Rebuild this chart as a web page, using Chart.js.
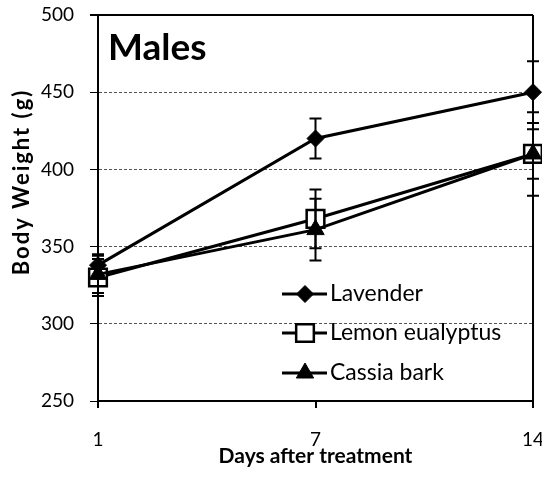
<!DOCTYPE html>
<html>
<head>
<meta charset="utf-8">
<script src="https://cdn.jsdelivr.net/npm/chart.js@4.4.1/dist/chart.umd.min.js"></script>
<style>
  body { margin: 0; background: #fff; }
  canvas { display: block; }
</style>
</head>
<body>
<canvas id="weightChart" width="542" height="477"></canvas>
<script>
// Days after treatment (categories) and body weight in g
const days = ['1', '7', '14'];
const lavender = [338, 420, 450];
const lavenderErr = [7, 13, 20];
const lemon = [330, 368, 410];
const lemonErr = [12, 19, 16];
const cassia = [332, 361, 410];
const cassiaErr = [12, 20, 27];
const seriesNames = ['Lavender', 'Lemon eualyptus', 'Cassia bark'];
const yTicks = [250, 300, 350, 400, 450, 500];

const FONT = 'Lato';

// vertical error bars with caps, from the y scale
const errorBars = {
    id: 'errorBars',
    afterDatasetsDraw(chart) {
        const ctx = chart.ctx;
        const yScale = chart.scales.y;
        ctx.save();
        ctx.strokeStyle = '#000';
        ctx.lineWidth = 2;
        chart.data.datasets.forEach((ds, di) => {
            const meta = chart.getDatasetMeta(di);
            meta.data.forEach((pt, i) => {
                const v = ds.data[i];
                const e = ds.errors[i];
                const top = yScale.getPixelForValue(v + e);
                const bot = yScale.getPixelForValue(v - e);
                ctx.beginPath();
                ctx.moveTo(pt.x, top);
                ctx.lineTo(pt.x, bot);
                ctx.moveTo(pt.x - 6, top);
                ctx.lineTo(pt.x + 6, top);
                ctx.moveTo(pt.x - 6, bot);
                ctx.lineTo(pt.x + 6, bot);
                ctx.stroke();
            });
        });
        ctx.restore();
    }
};

// "Males" label, y axis title and the in-plot legend
const annotations = {
    id: 'annotations',
    afterDraw(chart) {
        const ctx = chart.ctx;
        const area = chart.chartArea;
        ctx.save();
        ctx.fillStyle = '#000';
        ctx.textBaseline = 'alphabetic';
        ctx.font = 'bold 37px ' + FONT;
        ctx.fillText('Males', area.left + 10, 60);

        ctx.save();
        ctx.translate(22, 182);
        ctx.rotate(-Math.PI / 2);
        ctx.textAlign = 'center';
        ctx.textBaseline = 'middle';
        ctx.font = 'bold 22px ' + FONT;
        ctx.letterSpacing = '2px';
        ctx.fillText('Body Weight (g)', 0, 0);
        ctx.restore();

        const rows = [294, 333, 373];
        ctx.font = '23px ' + FONT;
        ctx.textBaseline = 'middle';
        chart.data.datasets.forEach((ds, i) => {
            const y = rows[i];
            ctx.strokeStyle = '#000';
            ctx.lineWidth = 3;
            ctx.beginPath();
            ctx.moveTo(282, y);
            ctx.lineTo(327, y);
            ctx.stroke();
            ctx.lineWidth = ds.pointBorderWidth;
            ctx.fillStyle = ds.pointBackgroundColor;
            Chart.helpers.drawPoint(ctx, {
                pointStyle: ds.pointStyle,
                radius: ds.pointRadius,
                rotation: 0,
                borderWidth: ds.pointBorderWidth
            }, 305, y);
            ctx.fillStyle = '#000';
            ctx.fillText(seriesNames[i], 330, y);
        });
        ctx.restore();
    }
};

new Chart(document.getElementById('weightChart'), {
    type: 'line',
    data: {
        labels: days,
        datasets: [
            {
                label: seriesNames[0],
                data: lavender,
                errors: lavenderErr,
                borderColor: '#000',
                borderWidth: 3,
                pointStyle: 'rectRot',
                pointRadius: 8.5,
                pointBackgroundColor: '#000',
                pointBorderColor: '#000',
                pointBorderWidth: 1,
                clip: false,
                order: 1
            },
            {
                label: seriesNames[1],
                data: lemon,
                errors: lemonErr,
                borderColor: '#000',
                borderWidth: 3,
                pointStyle: 'rect',
                pointRadius: 12.5,
                pointBackgroundColor: '#fff',
                pointBorderColor: '#000',
                pointBorderWidth: 2.5,
                clip: false,
                order: 2
            },
            {
                label: seriesNames[2],
                data: cassia,
                errors: cassiaErr,
                borderColor: '#000',
                borderWidth: 3,
                pointStyle: 'triangle',
                pointRadius: 10,
                pointBackgroundColor: '#000',
                pointBorderColor: '#000',
                pointBorderWidth: 1,
                clip: false,
                order: 0
            }
        ]
    },
    options: {
        responsive: false,
        animation: false,
        layout: { autoPadding: false, padding: { top: 15, left: 0, right: 0, bottom: 0 } },
        plugins: {
            legend: { display: false },
            tooltip: { enabled: false }
        },
        scales: {
            x: {
                offset: false,
                ticks: { color: '#000', font: { family: FONT, size: 19 }, padding: 20, maxRotation: 0 },
                grid: {
                    color: ctx => ctx.index === 2 ? '#000' : 'rgba(0,0,0,0)',
                    lineWidth: 2,
                    tickColor: '#000',
                    tickLength: 7
                },
                border: { color: '#000', width: 2 },
                title: {
                    display: true,
                    text: 'Days after treatment',
                    color: '#000',
                    font: { family: FONT, size: 21, weight: 'bold' },
                    padding: { top: 0, bottom: 8 }
                },
                afterFit: s => {
                    s.height = 76;
                    s.paddingLeft = 0;
                    s.paddingRight = 9;
                }
            },
            y: {
                min: yTicks[0],
                max: yTicks[yTicks.length - 1],
                afterBuildTicks: s => { s.ticks = yTicks.map(v => ({ value: v })); },
                ticks: { color: '#000', font: { family: FONT, size: 19 }, padding: 16 },
                grid: {
                    color: ctx => ctx.tick && ctx.tick.value === 500 ? '#000' : '#555',
                    lineWidth: ctx => ctx.tick && ctx.tick.value === 500 ? 2 : 1,
                    tickColor: '#000',
                    tickLength: 8
                },
                border: {
                    color: '#000',
                    width: 2,
                    dash: ctx => ctx.tick && ctx.tick.value !== 500 ? [3, 2] : []
                },
                afterFit: s => {
                    s.width = 98;
                    s.paddingTop = 0;
                }
            }
        }
    },
    plugins: [errorBars, annotations]
});
</script>
</body>
</html>
